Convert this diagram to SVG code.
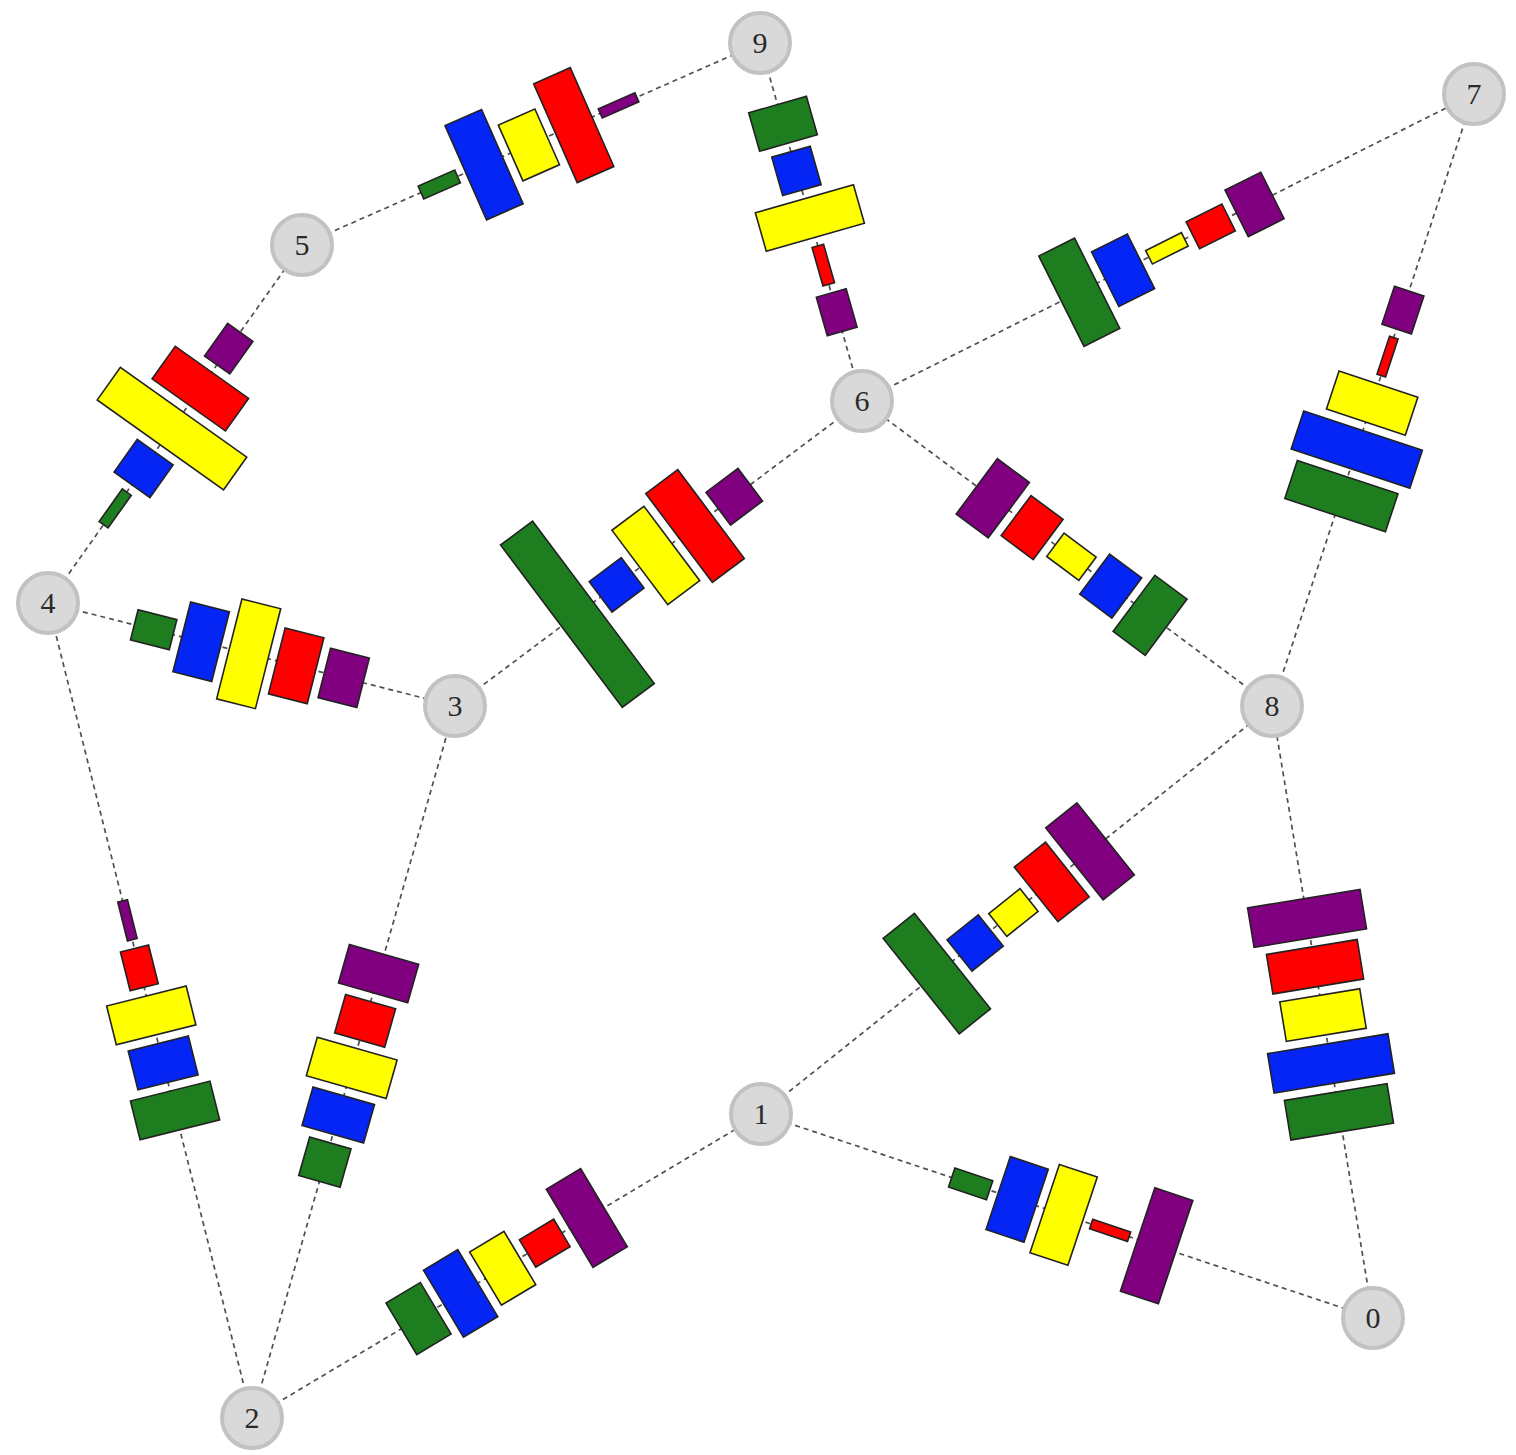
<svg xmlns="http://www.w3.org/2000/svg" width="1516" height="1455" viewBox="0 0 1516 1455">
<style>
.conn line{stroke:#505050;stroke-width:1.7;stroke-dasharray:5 4;fill:none}
.bars rect{stroke:#222;stroke-width:1.6}
.g{fill:#1e7d1e}.b{fill:#0525f5}.y{fill:#ffff00}.r{fill:#ff0000}.p{fill:#800080}
.node circle{fill:#d9d9d9;stroke:#c2c2c2;stroke-width:4}
.node text{font-family:"Liberation Serif",serif;font-size:30px;fill:#2a2a2a;text-anchor:middle}
</style>
<rect width="1516" height="1455" fill="#fff"/>
<g id="connectors" class="conn">
<line x1="302" y1="245" x2="760" y2="43"/>
<line x1="760" y1="43" x2="862" y2="401"/>
<line x1="862" y1="401" x2="1474" y2="94"/>
<line x1="48" y1="603" x2="302" y2="245"/>
<line x1="455" y1="706" x2="862" y2="401"/>
<line x1="1272" y1="706" x2="862" y2="401"/>
<line x1="1272" y1="706" x2="1474" y2="94"/>
<line x1="48" y1="603" x2="455" y2="706"/>
<line x1="252" y1="1418" x2="48" y2="603"/>
<line x1="252" y1="1418" x2="455" y2="706"/>
<line x1="761" y1="1114" x2="1272" y2="706"/>
<line x1="1373" y1="1318" x2="1272" y2="706"/>
<line x1="252" y1="1418" x2="761" y2="1114"/>
<line x1="761" y1="1114" x2="1373" y2="1318"/>
</g>
<g id="edge-bars" class="bars">
<g id="bars-5-9" transform="translate(302,245) rotate(-23.8)">
<rect class="g" x="130" y="-7" width="40" height="14"/><rect class="b" x="179" y="-51.5" width="40" height="103"/><rect class="y" x="228" y="-30.5" width="40" height="61"/><rect class="r" x="277" y="-54" width="40" height="108"/><rect class="p" x="326" y="-5" width="40" height="10"/>
</g>
<g id="bars-9-6" transform="translate(760,43) rotate(74.1)">
<rect class="g" x="64" y="-30" width="40" height="60"/><rect class="b" x="113" y="-20" width="40" height="40"/><rect class="y" x="162" y="-51" width="40" height="102"/><rect class="r" x="211" y="-6" width="40" height="12"/><rect class="p" x="260" y="-15.5" width="40" height="31"/>
</g>
<g id="bars-6-7" transform="translate(862,401) rotate(-26.6)">
<rect class="g" x="223" y="-50.5" width="40" height="101"/><rect class="b" x="272" y="-30.5" width="40" height="61"/><rect class="y" x="321" y="-7.5" width="40" height="15"/><rect class="r" x="370" y="-15" width="40" height="30"/><rect class="p" x="419" y="-26" width="40" height="52"/>
</g>
<g id="bars-4-5" transform="translate(48,603) rotate(-54.6)">
<rect class="g" x="96" y="-5.5" width="40" height="11"/><rect class="b" x="145" y="-22" width="40" height="44"/><rect class="y" x="194" y="-77.5" width="40" height="155"/><rect class="r" x="243" y="-45" width="40" height="90"/><rect class="p" x="292" y="-15.5" width="40" height="31"/>
</g>
<g id="bars-3-6" transform="translate(455,706) rotate(-36.85)">
<rect class="g" x="133" y="-101.5" width="40" height="203"/><rect class="b" x="182" y="-19" width="40" height="38"/><rect class="y" x="231" y="-46.5" width="40" height="93"/><rect class="r" x="280" y="-55.5" width="40" height="111"/><rect class="p" x="329" y="-20.5" width="40" height="41"/>
</g>
<g id="bars-8-6" transform="translate(1272,706) rotate(-143.35)">
<rect class="g" x="132" y="-35" width="40" height="70"/><rect class="b" x="181" y="-25" width="40" height="50"/><rect class="y" x="230" y="-14.5" width="40" height="29"/><rect class="r" x="279" y="-25" width="40" height="50"/><rect class="p" x="328" y="-34.5" width="40" height="69"/>
</g>
<g id="bars-8-7" transform="translate(1272,706) rotate(-71.7)">
<rect class="g" x="201" y="-53" width="40" height="106"/><rect class="b" x="250" y="-62.5" width="40" height="125"/><rect class="y" x="299" y="-41.5" width="40" height="83"/><rect class="r" x="348" y="-4.5" width="40" height="9"/><rect class="p" x="397" y="-15.5" width="40" height="31"/>
</g>
<g id="bars-4-3" transform="translate(48,603) rotate(14.2)">
<rect class="g" x="89" y="-15.5" width="40" height="31"/><rect class="b" x="138" y="-36" width="40" height="72"/><rect class="y" x="187" y="-51.5" width="40" height="103"/><rect class="r" x="236" y="-34" width="40" height="68"/><rect class="p" x="285" y="-25.5" width="40" height="51"/>
</g>
<g id="bars-2-4" transform="translate(252,1418) rotate(-104.05)">
<rect class="g" x="297" y="-41" width="40" height="82"/><rect class="b" x="346" y="-31" width="40" height="62"/><rect class="y" x="395" y="-41" width="40" height="82"/><rect class="r" x="444" y="-14.5" width="40" height="29"/><rect class="p" x="493" y="-5" width="40" height="10"/>
</g>
<g id="bars-2-3" transform="translate(252,1418) rotate(-74.1)">
<rect class="g" x="246" y="-21.5" width="40" height="43"/><rect class="b" x="295" y="-32" width="40" height="64"/><rect class="y" x="344" y="-41.5" width="40" height="83"/><rect class="r" x="393" y="-26" width="40" height="52"/><rect class="p" x="442" y="-36" width="40" height="72"/>
</g>
<g id="bars-1-8" transform="translate(761,1114) rotate(-38.6)">
<rect class="g" x="205" y="-61" width="40" height="122"/><rect class="b" x="254" y="-20" width="40" height="40"/><rect class="y" x="303" y="-14.5" width="40" height="29"/><rect class="r" x="352" y="-35" width="40" height="70"/><rect class="p" x="401" y="-46" width="40" height="92"/>
</g>
<g id="bars-0-8" transform="translate(1373,1318) rotate(-99.37)">
<rect class="g" x="189" y="-52" width="40" height="104"/><rect class="b" x="238" y="-61" width="40" height="122"/><rect class="y" x="287" y="-40.5" width="40" height="81"/><rect class="r" x="336" y="-46" width="40" height="92"/><rect class="p" x="385" y="-57" width="40" height="114"/>
</g>
<g id="bars-2-1" transform="translate(252,1418) rotate(-30.85)">
<rect class="g" x="174" y="-30" width="40" height="60"/><rect class="b" x="223" y="-39" width="40" height="78"/><rect class="y" x="272" y="-31" width="40" height="62"/><rect class="r" x="321" y="-16" width="40" height="32"/><rect class="p" x="370" y="-45.5" width="40" height="91"/>
</g>
<g id="bars-1-0" transform="translate(761,1114) rotate(18.43)">
<rect class="g" x="201" y="-10" width="40" height="20"/><rect class="b" x="250" y="-38.5" width="40" height="77"/><rect class="y" x="299" y="-46.5" width="40" height="93"/><rect class="r" x="348" y="-5" width="40" height="10"/><rect class="p" x="397" y="-54.5" width="40" height="109"/>
</g>
</g>
<g id="node-9" class="node"><circle cx="760" cy="43" r="30"/><text x="760" y="53">9</text></g>
<g id="node-7" class="node"><circle cx="1474" cy="94" r="30"/><text x="1474" y="104">7</text></g>
<g id="node-5" class="node"><circle cx="302" cy="245" r="30"/><text x="302" y="255">5</text></g>
<g id="node-6" class="node"><circle cx="862" cy="401" r="30"/><text x="862" y="411">6</text></g>
<g id="node-4" class="node"><circle cx="48" cy="603" r="30"/><text x="48" y="613">4</text></g>
<g id="node-3" class="node"><circle cx="455" cy="706" r="30"/><text x="455" y="716">3</text></g>
<g id="node-8" class="node"><circle cx="1272" cy="706" r="30"/><text x="1272" y="716">8</text></g>
<g id="node-1" class="node"><circle cx="761" cy="1114" r="30"/><text x="761" y="1124">1</text></g>
<g id="node-0" class="node"><circle cx="1373" cy="1318" r="30"/><text x="1373" y="1328">0</text></g>
<g id="node-2" class="node"><circle cx="252" cy="1418" r="30"/><text x="252" y="1428">2</text></g>
</svg>
